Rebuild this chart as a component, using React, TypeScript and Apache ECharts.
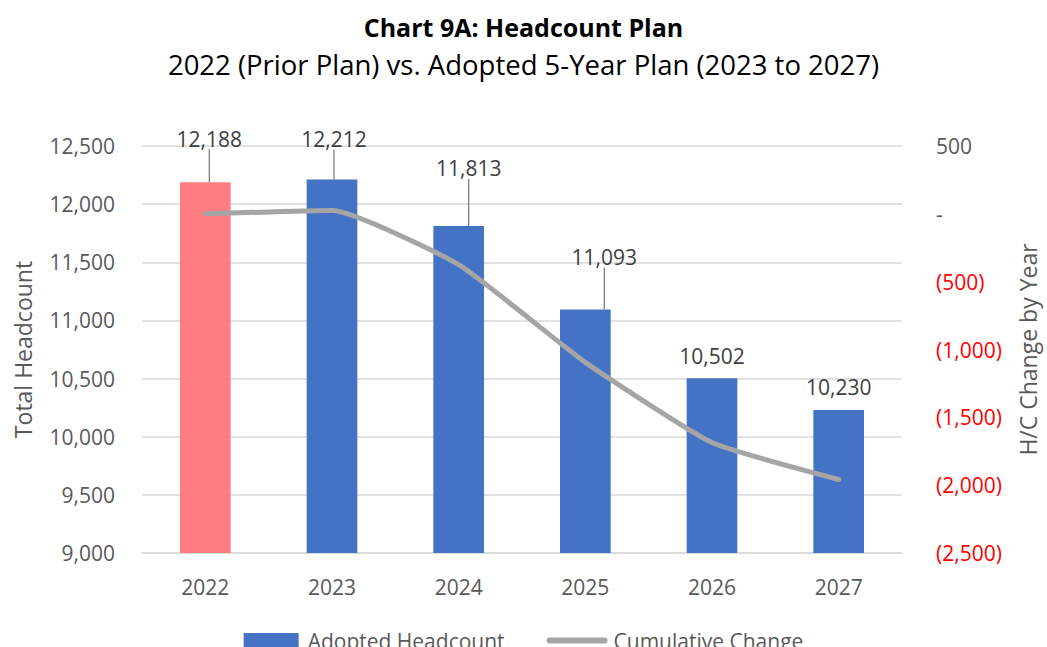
import React, { useEffect, useRef } from "react";
import * as echarts from "echarts";

const years = ["2022", "2023", "2024", "2025", "2026", "2027"];
const headcount = [12188, 12212, 11813, 11093, 10502, 10230];
const cumulativeChange = [0, 24, -375, -1095, -1686, -1958];
const labelOffsets = [
  [4, -21],
  [2, -18],
  [10, -35],
  [19, -30],
  [0, 0],
  [0, 0],
];
const showLeader = [true, true, true, true, false, false];

const FONT = "'Open Sans', 'Noto Sans', sans-serif";
const fmt = (v: number) => Math.round(v).toLocaleString("en-US");

export default function App() {
  const ref = useRef<HTMLDivElement>(null);
  useEffect(() => {
    if (!ref.current) return;
    const chart = echarts.init(ref.current, undefined, { renderer: "svg" });
    chart.setOption({
      animation: false,
      backgroundColor: "#ffffff",
      textStyle: { fontFamily: FONT },
      title: [
        {
          text: "Chart 9A: Headcount Plan",
          left: "center",
          top: 9,
          textStyle: { fontFamily: FONT, fontSize: 25, fontWeight: "bold", color: "#000" },
        },
        {
          text: "2022 (Prior Plan) vs. Adopted 5-Year Plan (2023 to 2027)",
          left: "center",
          top: 45,
          textStyle: { fontFamily: FONT, fontSize: 27.5, fontWeight: "normal", color: "#000" },
        },
      ],
      legend: {
        top: 625,
        left: "center",
        itemGap: 42,
        itemWidth: 55,
        itemHeight: 15,
        textStyle: { fontFamily: FONT, fontSize: 21, color: "#595959", padding: [0, 0, 0, 4] },
        data: [
          { name: "Adopted Headcount", icon: "rect", itemStyle: { color: "#4472c4" } },
          {
            name: "Cumulative Change",
            itemStyle: { opacity: 0 },
            lineStyle: { color: "#a5a5a5", width: 6, cap: "round" },
          },
        ],
      },
      grid: { left: 142, right: 135, top: 146, bottom: 94 },
      xAxis: {
        type: "category",
        data: years,
        axisTick: { show: false },
        axisLine: { onZero: false, lineStyle: { color: "#d9d9d9", width: 1.5 } },
        axisLabel: { fontFamily: FONT, fontSize: 21, color: "#595959", margin: 23 },
      },
      yAxis: [
        {
          type: "value",
          min: 9000,
          max: 12500,
          interval: 500,
          name: "Total Headcount",
          nameLocation: "middle",
          nameGap: 108,
          nameRotate: 90,
          nameTextStyle: { fontFamily: FONT, fontSize: 23, color: "#595959" },
          axisLine: { show: false },
          axisTick: { show: false },
          axisLabel: { fontFamily: FONT, fontSize: 21, color: "#595959", margin: 27, formatter: (v: number) => fmt(v) },
          splitLine: { lineStyle: { color: "#d9d9d9", width: 1.5 } },
        },
        {
          type: "value",
          min: -2500,
          max: 500,
          interval: 500,
          position: "right",
          name: "H/C Change by Year",
          nameLocation: "middle",
          nameGap: 114,
          nameRotate: 90,
          nameTextStyle: { fontFamily: FONT, fontSize: 23, color: "#595959" },
          axisLine: { show: false },
          axisTick: { show: false },
          splitLine: { show: false },
          axisLabel: {
            fontFamily: FONT,
            fontSize: 21,
            margin: 34,
            color: "#595959",
            formatter: (v: number) => {
              if (v === 0) return "{g|-}";
              if (v > 0) return "{g|" + fmt(v) + "}";
              return "{r|(" + fmt(-v) + ")}";
            },
            rich: {
              g: { color: "#595959", fontSize: 21, fontFamily: FONT },
              r: { color: "#ff0000", fontSize: 21, fontFamily: FONT },
            },
          },
        },
      ],
      series: [
        {
          name: "Adopted Headcount",
          type: "bar",
          barWidth: "40%",
          yAxisIndex: 0,
          data: headcount.map((v, i) => ({
            value: v,
            itemStyle: { color: i === 0 ? "#ff7c80" : "#4472c4" },
            labelLine: { show: showLeader[i] },
          })),
          label: {
            show: true,
            position: "top",
            distance: 12,
            fontFamily: FONT,
            fontSize: 21,
            color: "#404040",
            formatter: (p: any) => fmt(p.value),
          },
          labelLayout: (p: any) => ({ dx: labelOffsets[p.dataIndex][0], dy: labelOffsets[p.dataIndex][1] }),
          labelLine: { show: true, length2: 0, lineStyle: { color: "#7f7f7f", width: 1.3 } },
          z: 2,
        },
        {
          name: "Cumulative Change",
          type: "line",
          yAxisIndex: 1,
          data: cumulativeChange,
          smooth: 0.15,
          symbol: "none",
          lineStyle: { color: "#a5a5a5", width: 5, cap: "round" },
          itemStyle: { color: "#a5a5a5" },
          z: 3,
        },
      ],
    });
    return () => chart.dispose();
  }, []);
  return <div ref={ref} style={{ position: "absolute", left: 0, top: 0, width: 1047, height: 647 }} />;
}
